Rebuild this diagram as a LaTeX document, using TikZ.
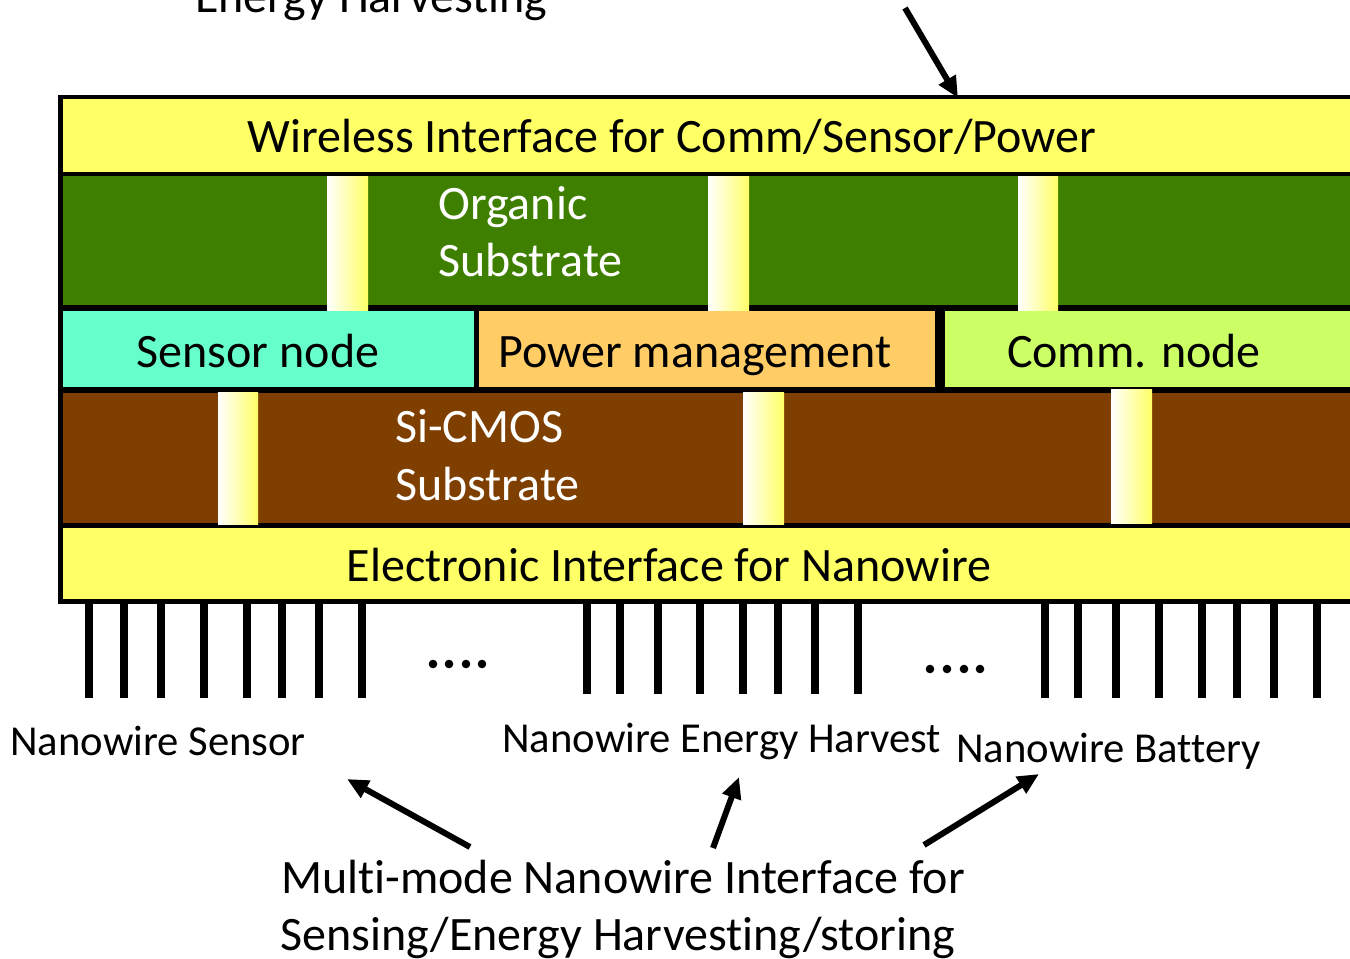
\documentclass[tikz,border=0pt]{standalone}
\usepackage{fontspec}
\setmainfont{Carlito}[Ligatures={NoCommon}]
\usetikzlibrary{arrows.meta}
\definecolor{yel}{HTML}{FFFF66}
\definecolor{orggreen}{HTML}{3F7F00}
\definecolor{sencyan}{HTML}{66FFCC}
\definecolor{powor}{HTML}{FFCC66}
\definecolor{commlime}{HTML}{CCFF66}
\definecolor{sibrown}{HTML}{7F3F00}
\begin{document}
\begin{tikzpicture}[x=0.75pt,y=-0.75pt,
  big/.style={font=\fontsize{36}{43}\selectfont, inner sep=0, anchor=base},
  lbl/.style={font=\fontsize{32}{38}\selectfont, inner sep=0, anchor=base west},
  pillar/.style={left color=white, right color=yel},
  wire/.style={line width=5.5pt},
  arr/.style={line width=4.5pt, -{Triangle[length=16pt,width=14pt]}},
  dot/.style={fill=black}]
\useasboundingbox (0,0) rectangle (1350,958);
\clip (0,0) rectangle (1350,958);
% frame
\fill[black] (58,95) rectangle (1360,604);
\fill[yel] (63,99) rectangle (1360,172);
\fill[orggreen] (63,176) rectangle (1360,305);
\fill[sencyan] (63,311) rectangle (474,387);
\fill[powor] (479,311) rectangle (935,387);
\fill[commlime] (945,311) rectangle (1360,387);
\fill[sibrown] (63,393) rectangle (1360,523);
\fill[yel] (63,528) rectangle (1360,599);
% pillars
\shade[pillar] (327,176) rectangle (368,310);
\shade[pillar] (708,176) rectangle (749,310);
\shade[pillar] (1018,176) rectangle (1058,310);
\shade[pillar] (218,392) rectangle (258,524);
\shade[pillar] (743,392) rectangle (784,524);
\shade[pillar] (1111,389) rectangle (1152,523);
% texts
\node[big, anchor=base west] (eh) at (195,12) {Energy Harvesting};
\node[big] (wi) at (672,152) {Wireless Interface for Comm/Sensor/Power};
\node[big, anchor=base west, text=white] (org1) at (438,219) {Organic};
\node[big, anchor=base west, text=white] (org2) at (438,276) {Substrate};
\node[big] (sn) at (258,367) {Sensor node};
\node[big] (pm) at (695,367) {Power management};
\node[big] (cn) at (1134,367) {Comm. node};
\node[big, anchor=base west, text=white] (si1) at (395,442) {Si-CMOS};
\node[big, anchor=base west, text=white] (si2) at (395,500) {Substrate};
\node[big] (ei) at (669,581) {Electronic Interface for Nanowire};
% wires
\foreach \x in {89,124,161,204,247,282,319,362} \draw[wire] (\x,604) -- (\x,698);
\foreach \x in {587,620,658,700,743,778,815,858} \draw[wire] (\x,604) -- (\x,694);
\foreach \x in {1045,1078,1116,1159,1202,1237,1274,1317} \draw[wire] (\x,604) -- (\x,698);
\foreach \x in {433,449,466,482} \fill[dot] (\x,664) circle (4.3);
\foreach \x in {930,947,964,980} \fill[dot] (\x,669) circle (4.3);
% labels
\node[lbl] (ns) at (10,755) {Nanowire Sensor};
\node[lbl] (ne) at (502,752) {Nanowire Energy Harvest};
\node[lbl] (nb) at (956,762) {Nanowire Battery};
\node[big, anchor=base west] (mm1) at (281,893) {Multi-mode Nanowire Interface for};
\node[big, anchor=base west] (mm2) at (280,950) {Sensing/Energy Harvesting/storing};
% arrows
\coordinate (t0) at (905,8);
\coordinate (t1) at (958,98);
\draw[arr] (t0) -- (t1);
\coordinate (a0) at (470,847);
\coordinate (a1) at (347,779);
\draw[arr] (a0) -- (a1);
\coordinate (b0) at (713,848);
\coordinate (b1) at (739,777);
\draw[arr] (b0) -- (b1);
\coordinate (c0) at (924,845);
\coordinate (c1) at (1039,774);
\draw[arr] (c0) -- (c1);
\end{tikzpicture}
\end{document}
